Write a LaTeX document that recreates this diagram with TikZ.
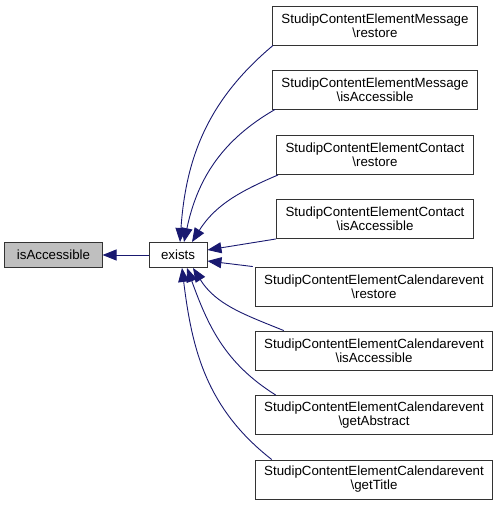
\documentclass[tikz,border=0pt]{standalone}
\usepackage{fontspec}
\setmainfont{Liberation Sans}
\usepackage{tikz}
\usetikzlibrary{arrows.meta, positioning}
\usepackage{xcolor}
\definecolor{edgeblue}{HTML}{191970}
\definecolor{focusgray}{HTML}{BFBFBF}

\tikzset{
  fn/.style={draw=black!80, line width=0.9pt, fill=white, align=center,
    font=\fontsize{13.3}{14}\selectfont, inner xsep=9pt, minimum height=39pt},
  single/.style={fn, minimum height=25pt, inner xsep=12pt},
  calls/.style={draw=edgeblue, line width=0.9pt,
    -{Triangle[length=14pt, width=11pt]}}
}

\begin{document}
\begin{tikzpicture}[x=1pt, y=1pt]
      \useasboundingbox (0,0) rectangle (497,509);
      % caller side
      \node[single, fill=focusgray] (acc) at (53.5, 254) {isAccessible};
      \node[single] (exists) at (178, 254) {exists};

      \node[fn] (msgrest) at (375, 483.5)
        {StudipContentElementMessage\\\textbackslash restore};
      \node[fn] (msgacc) at (375, 419.5)
        {StudipContentElementMessage\\\textbackslash isAccessible};
      \node[fn] (conrest) at (375, 354)
        {StudipContentElementContact\\\textbackslash restore};
      \node[fn] (conacc) at (375, 290)
        {StudipContentElementContact\\\textbackslash isAccessible};
      \node[fn] (calrest) at (374, 222.5)
        {StudipContentElementCalendarevent\\\textbackslash restore};
      \node[fn] (calacc) at (374, 158.5)
        {StudipContentElementCalendarevent\\\textbackslash isAccessible};
      \node[fn] (calabs) at (374, 94)
        {StudipContentElementCalendarevent\\\textbackslash getAbstract};
      \node[fn] (caltitle) at (374, 29.5)
        {StudipContentElementCalendarevent\\\textbackslash getTitle};

      % edges
      \draw[calls] (exists.west) -- (acc.east);
      \draw[calls] ([xshift=1pt]msgrest.south west)
        to[out=220, in=86] ([xshift=2pt]exists.north);
      \draw[calls] ([xshift=3pt]msgacc.south west)
        to[out=210, in=78] ([xshift=6pt]exists.north);
      \draw[calls] ([xshift=2pt]conrest.south west)
        to[out=203, in=58] ([xshift=14pt]exists.north);
      \draw[calls] (conacc.south west) -- ([yshift=5pt]exists.east);
      \draw[calls] ([xshift=-2pt]calrest.north west) -- ([yshift=-6pt]exists.east);
      \draw[calls] ([xshift=29pt]calacc.north west)
        to[out=158, in=-58] ([xshift=15pt]exists.south);
      \draw[calls] ([xshift=21pt]calabs.north west)
        to[out=148, in=-70] ([xshift=9pt]exists.south);
      \draw[calls] ([xshift=17pt]caltitle.north west)
        to[out=142, in=-83] ([xshift=4pt]exists.south);
    \end{tikzpicture}
\end{document}
